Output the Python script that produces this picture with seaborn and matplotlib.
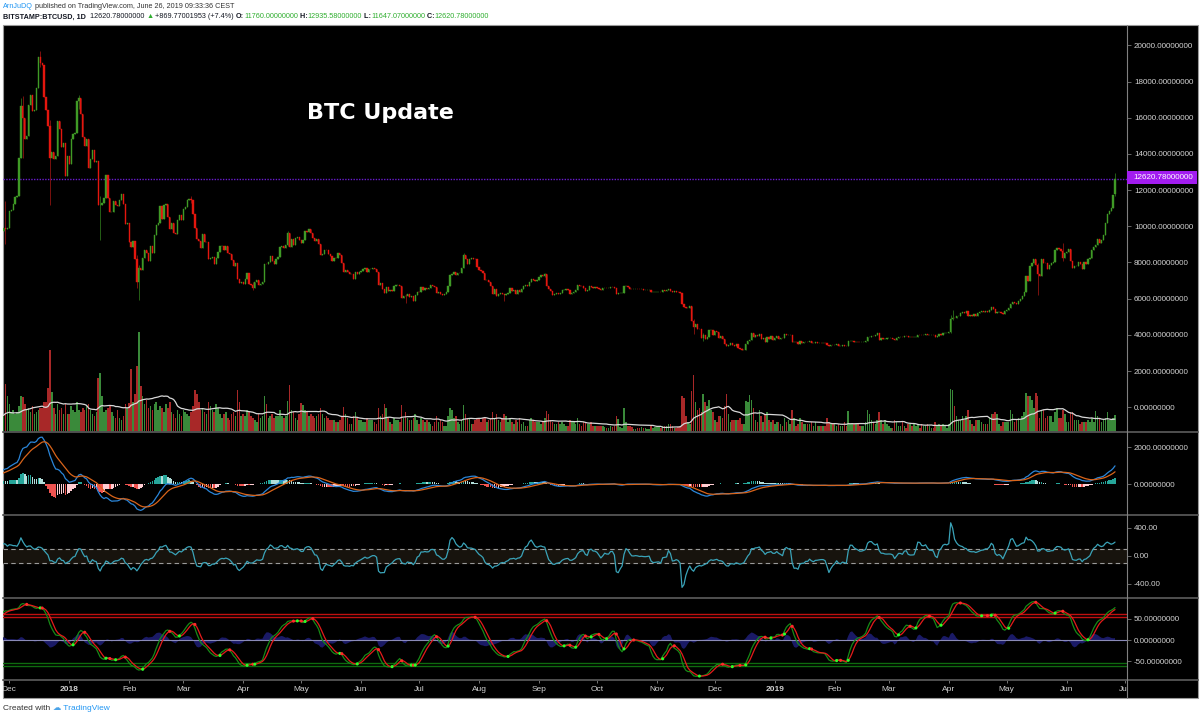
import numpy as np
import pandas as pd
import matplotlib
matplotlib.use('Agg')
import matplotlib.pyplot as plt
import matplotlib.dates as mdates
from matplotlib.patches import Rectangle
from matplotlib.lines import Line2D
import seaborn as sns

# BITSTAMP:BTCUSD daily closes, one list per month (Oct/Nov 2017 only warm up the indicators)
close_2017_10 = [4400, 4400, 4300, 4230, 4330, 4370, 4440, 4610, 4780, 4780, 4830, 5440, 5640, 5820, 5700, 5750,
                 5600, 5570, 5710, 6000, 6010, 5990, 5900, 5520, 5750, 5900, 5780, 5760, 6150, 6130, 6450]
close_2017_11 = [6740, 7030, 7160, 7390, 7380, 6960, 7120, 7460, 7140, 6600, 6350, 5900, 6550, 6600, 7280, 7850,
                 7700, 7790, 8040, 8200, 8080, 8240, 8030, 8200, 8750, 9280, 9720, 9900, 9850, 9930]
close_2017_12 = [10860, 10910, 11240, 11600, 11690, 13780, 16630, 15990, 14850, 15000, 16700, 17250, 16370, 16410,
                 17650, 19350, 19010, 18900, 17150, 16420, 15550, 13800, 14130, 13700, 13900, 15800, 15350, 14380,
                 14620, 12800, 13880]
close_2018_01 = [13450, 14850, 15100, 15150, 16900, 17100, 16200, 14950, 14450, 14800, 13200, 13700, 14200, 13550,
                 13600, 11200, 11200, 11300, 11550, 12850, 11550, 10800, 10800, 11400, 11200, 11100, 11450, 11800,
                 11250, 10100, 10200]
close_2018_02 = [9150, 8850, 9200, 8200, 6950, 7700, 7600, 8250, 8700, 8550, 8100, 8900, 8550, 9500, 10050, 10200,
                 11100, 10400, 11150, 11250, 10500, 9850, 10200, 9650, 9600, 10350, 10600, 10350]
close_2018_03 = [10950, 11050, 11450, 11500, 11450, 10700, 9900, 9300, 9200, 8800, 9550, 9150, 9150, 8200, 8250,
                 8300, 7900, 8250, 8600, 8900, 8900, 8700, 8900, 8550, 8450, 8150, 7800, 7950, 7100, 6850, 6930]
close_2018_04 = [6830, 7080, 7420, 6800, 6780, 6600, 6900, 7020, 6770, 6830, 6950, 7920, 7890, 8000, 8350, 8060,
                 7900, 8170, 8280, 8860, 8920, 8800, 8940, 9650, 8880, 9280, 8940, 9350, 9400, 9240]
close_2018_05 = [9070, 9220, 9740, 9700, 9850, 9650, 9370, 9190, 9320, 9030, 8420, 8480, 8700, 8680, 8480, 8340,
                 8060, 8240, 8230, 8530, 8400, 7990, 7500, 7590, 7470, 7350, 7350, 7110, 7460, 7390, 7490]
close_2018_06 = [7530, 7640, 7710, 7490, 7620, 7660, 7680, 7620, 7500, 6780, 6880, 6550, 6310, 6640, 6400, 6500,
                 6450, 6710, 6740, 6760, 6720, 6050, 6170, 6150, 6250, 6090, 6130, 5860, 6200, 6390]
close_2018_07 = [6350, 6620, 6500, 6600, 6530, 6600, 6750, 6710, 6660, 6300, 6390, 6240, 6220, 6250, 6350, 6720,
                 7320, 7370, 7470, 7330, 7400, 7400, 7720, 8400, 8170, 7940, 8180, 8230, 8210, 8170, 7730]
close_2018_08 = [7600, 7530, 7420, 7010, 7030, 6940, 6720, 6280, 6540, 6150, 6240, 6320, 6250, 6190, 6270, 6310,
                 6580, 6400, 6490, 6260, 6480, 6360, 6520, 6690, 6730, 6710, 6910, 7090, 7030, 6980, 7030]
close_2018_09 = [7190, 7290, 7260, 7370, 6700, 6510, 6400, 6190, 6240, 6290, 6280, 6330, 6480, 6480, 6520, 6500,
                 6250, 6340, 6390, 6490, 6760, 6710, 6700, 6590, 6430, 6460, 6680, 6630, 6600, 6630]
close_2018_10 = [6590, 6530, 6470, 6570, 6610, 6570, 6600, 6660, 6640, 6590, 6260, 6290, 6290, 6310, 6680, 6690,
                 6650, 6560, 6520, 6530, 6530, 6520, 6510, 6520, 6500, 6500, 6500, 6500, 6350, 6350, 6350]
close_2018_11 = [6380, 6390, 6370, 6500, 6430, 6460, 6560, 6450, 6360, 6400, 6390, 6370, 6320, 5700, 5560, 5480,
                 5500, 5580, 4750, 4420, 4600, 4330, 4300, 3850, 4000, 3750, 3860, 4270, 4280, 4000]
close_2018_12 = [4190, 4140, 3850, 3950, 3750, 3500, 3390, 3420, 3570, 3440, 3380, 3470, 3270, 3200, 3180, 3190,
                 3500, 3660, 3720, 4100, 3860, 4000, 3950, 4050, 3780, 3820, 3600, 3880, 3800, 3920, 3740]
close_2019_01 = [3850, 3940, 3800, 3840, 3810, 4050, 3990, 4000, 4010, 3620, 3620, 3580, 3510, 3660, 3570, 3600,
                 3630, 3580, 3690, 3530, 3540, 3580, 3550, 3570, 3560, 3560, 3530, 3430, 3400, 3460, 3440]
close_2019_02 = [3460, 3490, 3410, 3410, 3430, 3390, 3380, 3640, 3640, 3670, 3610, 3620, 3600, 3580, 3600, 3620,
                 3660, 3880, 3900, 3960, 3920, 3970, 4120, 3740, 3820, 3800, 3800, 3810]
close_2019_03 = [3820, 3820, 3800, 3700, 3850, 3860, 3870, 3860, 3940, 3920, 3860, 3870, 3860, 3860, 3910, 4010,
                 3980, 3970, 4000, 4040, 3980, 3980, 3990, 3980, 3900, 3920, 4030, 4020, 4100, 4100, 4100]
close_2019_04 = [4140, 4880, 4960, 4920, 5030, 5050, 5190, 5290, 5200, 5330, 5030, 5080, 5070, 5150, 5030, 5220,
                 5250, 5300, 5280, 5330, 5290, 5400, 5550, 5440, 5200, 5270, 5270, 5230, 5160, 5320]
close_2019_05 = [5380, 5500, 5730, 5820, 5750, 5700, 5850, 5980, 6170, 6350, 7250, 6960, 7800, 7980, 8200, 7880,
                 7360, 7260, 8190, 7980, 7950, 7630, 7880, 7990, 8050, 8680, 8780, 8720, 8660, 8270, 8550]
close_2019_06 = [8560, 8740, 8110, 7680, 7790, 7800, 8010, 7930, 7630, 8020, 7910, 8170, 8230, 8690, 8860, 8990,
                 9320, 9080, 9270, 9530, 10200, 10700, 10860, 11020, 11751, 12620.78]

# daily volume (thousand BTC)
vol_2017_10 = [12, 10, 12, 12, 10, 8, 8, 12, 14, 14, 14, 24, 22, 18, 14, 12, 12, 12, 10, 18, 14, 12, 14, 20, 14, 12,
               12, 8, 14, 12, 14]
vol_2017_11 = [16, 16, 14, 14, 12, 12, 12, 18, 14, 20, 18, 28, 26, 16, 20, 24, 16, 12, 14, 16, 14, 12, 10, 10, 14, 16,
               18, 16, 48, 36]
vol_2017_12 = [28, 20, 22, 18, 20, 26, 36, 35, 28, 22, 24, 20, 26, 18, 20, 22, 24, 24, 30, 30, 44, 82, 40, 24, 18, 28,
               22, 24, 18, 28, 18]
vol_2018_01 = [18, 26, 22, 20, 30, 22, 20, 24, 22, 26, 28, 22, 18, 16, 20, 54, 59, 36, 20, 22, 24, 26, 20, 16, 14, 22,
               14, 12, 16, 28, 24]
vol_2018_02 = [29, 63, 30, 38, 66, 100, 46, 36, 28, 32, 24, 26, 22, 28, 30, 22, 26, 24, 20, 28, 24, 30, 20, 18, 14, 22,
               18, 16]
vol_2018_03 = [22, 20, 18, 16, 20, 26, 42, 38, 30, 22, 24, 20, 18, 30, 26, 22, 20, 28, 24, 18, 14, 18, 20, 14, 12, 18,
               20, 16, 42, 30, 16]
vol_2018_04 = [18, 16, 22, 20, 16, 14, 12, 10, 18, 14, 16, 36, 28, 14, 16, 18, 14, 16, 16, 22, 16, 14, 16, 31, 47, 22,
               20, 14, 12, 18]
vol_2018_05 = [29, 27, 22, 20, 16, 18, 16, 14, 16, 18, 24, 18, 14, 16, 14, 12, 12, 12, 10, 10, 12, 16, 25, 18, 14, 8,
               8, 16, 20, 14, 12]
vol_2018_06 = [12, 10, 10, 14, 12, 12, 12, 10, 8, 24, 16, 18, 28, 24, 14, 10, 8, 14, 12, 12, 10, 27, 14, 20, 14, 12,
               12, 14, 18, 12]
vol_2018_07 = [8, 14, 12, 10, 12, 10, 8, 6, 10, 16, 10, 12, 10, 6, 6, 16, 24, 22, 14, 16, 10, 8, 12, 27, 18, 14, 14, 8,
               8, 12, 14]
vol_2018_08 = [14, 10, 14, 14, 10, 12, 14, 20, 14, 18, 12, 10, 14, 18, 16, 10, 14, 10, 8, 12, 10, 14, 8, 10, 6, 6, 12,
               14, 12, 10, 10]
vol_2018_09 = [10, 8, 10, 14, 21, 18, 12, 10, 8, 8, 10, 8, 10, 8, 6, 6, 12, 10, 10, 8, 14, 8, 6, 10, 10, 8, 8, 10, 6, 6]
vol_2018_10 = [6, 6, 6, 6, 5, 4, 4, 6, 5, 6, 16, 13, 5, 4, 24, 10, 6, 6, 5, 3, 3, 4, 4, 5, 4, 4, 3, 3, 6, 4, 5]
vol_2018_11 = [5, 5, 4, 6, 6, 6, 8, 8, 6, 4, 4, 5, 6, 36, 34, 16, 10, 8, 41, 57, 30, 22, 24, 20, 38, 30, 26, 32, 22, 20]
vol_2018_12 = [12, 10, 16, 16, 14, 26, 38, 18, 10, 12, 12, 12, 12, 14, 8, 8, 31, 30, 37, 32, 24, 12, 10, 22, 16, 10,
               18, 20, 12, 10, 12]
vol_2019_01 = [8, 10, 10, 8, 6, 14, 10, 12, 8, 22, 14, 6, 8, 14, 10, 8, 8, 8, 8, 10, 6, 10, 6, 6, 6, 6, 6, 14, 10, 8, 8]
vol_2019_02 = [8, 6, 8, 6, 6, 10, 6, 21, 8, 8, 8, 8, 8, 6, 6, 6, 10, 22, 18, 12, 10, 8, 12, 20, 12, 8, 12, 8]
vol_2019_03 = [6, 4, 4, 12, 10, 6, 6, 10, 6, 4, 8, 8, 6, 8, 6, 8, 4, 8, 6, 6, 8, 6, 4, 4, 10, 6, 8, 6, 8, 6, 4]
vol_2019_04 = [8, 43, 42, 26, 16, 12, 12, 16, 12, 16, 22, 12, 8, 6, 12, 12, 12, 10, 8, 8, 8, 14, 18, 18, 20, 18, 8, 6,
               10, 10]
vol_2019_05 = [10, 10, 22, 18, 10, 12, 14, 12, 16, 20, 39, 36, 36, 32, 24, 39, 36, 14, 22, 22, 14, 16, 16, 16, 10, 20,
               24, 14, 14, 22, 18]
vol_2019_06 = [10, 10, 20, 20, 12, 12, 12, 8, 10, 10, 10, 12, 10, 14, 10, 21, 16, 14, 10, 12, 14, 20, 12, 12, 14, 17]

# notable wicks: date -> (high, low)
wicks = {
    '2017-11-29': (11400, 9000), '2017-12-07': (17100, 13800), '2017-12-08': (17200, 13800),
    '2017-12-17': (19666, 18800), '2017-12-22': (15900, 11200), '2018-01-06': (17250, 16500),
    '2018-01-17': (11700, 9250), '2018-02-05': (8400, 6600), '2018-02-06': (7850, 5950),
    '2018-03-05': (11700, 11300), '2018-04-06': (6950, 6500), '2018-04-24': (9750, 8900),
    '2018-06-24': (6250, 5750), '2018-07-24': (8500, 7700), '2018-08-14': (6250, 5900),
    '2018-09-04': (7400, 7200), '2018-11-20': (4900, 4050), '2018-11-25': (4100, 3650),
    '2018-12-15': (3250, 3150), '2019-04-02': (5100, 4100), '2019-04-03': (5350, 4800),
    '2019-05-17': (7950, 6180), '2019-05-30': (9050, 8100), '2019-06-26': (12935.58, 11647.07),
}
open_override = {'2019-06-26': 11760.0}
last_price = 12620.78

month_starts = ['2017-10-01', '2017-11-01', '2017-12-01', '2018-01-01', '2018-02-01', '2018-03-01', '2018-04-01',
                '2018-05-01', '2018-06-01', '2018-07-01', '2018-08-01', '2018-09-01', '2018-10-01', '2018-11-01',
                '2018-12-01', '2019-01-01', '2019-02-01', '2019-03-01', '2019-04-01', '2019-05-01', '2019-06-01']
closes_by_month = [close_2017_10, close_2017_11, close_2017_12, close_2018_01, close_2018_02, close_2018_03,
                   close_2018_04, close_2018_05, close_2018_06, close_2018_07, close_2018_08, close_2018_09,
                   close_2018_10, close_2018_11, close_2018_12, close_2019_01, close_2019_02, close_2019_03,
                   close_2019_04, close_2019_05, close_2019_06]
vols_by_month = [vol_2017_10, vol_2017_11, vol_2017_12, vol_2018_01, vol_2018_02, vol_2018_03, vol_2018_04,
                 vol_2018_05, vol_2018_06, vol_2018_07, vol_2018_08, vol_2018_09, vol_2018_10, vol_2018_11,
                 vol_2018_12, vol_2019_01, vol_2019_02, vol_2019_03, vol_2019_04, vol_2019_05, vol_2019_06]

frames = []
for start, c, v in zip(month_starts, closes_by_month, vols_by_month):
    frames.append(pd.DataFrame({'date': pd.date_range(start, periods=len(c), freq='D'), 'close': c, 'volume': v}))
df = pd.concat(frames, ignore_index=True)
df['close'] = df['close'].astype(float)
df['open'] = df['close'].shift(1).fillna(df['close'].iloc[0])
for d, o in open_override.items():
    df.loc[df['date'] == d, 'open'] = o
df['high'] = df[['open', 'close']].max(axis=1)
df['low'] = df[['open', 'close']].min(axis=1)
for d, (h, l) in wicks.items():
    m = df['date'] == d
    df.loc[m, 'high'] = np.maximum(df.loc[m, 'high'], h)
    df.loc[m, 'low'] = np.minimum(df.loc[m, 'low'], l)
x = mdates.date2num(df['date'])
up = (df['close'] >= df['open']).values


def ema(s, n):
    return s.ewm(span=n, adjust=False).mean()


# indicators
macd = ema(df['close'], 12) - ema(df['close'], 26)
signal = ema(macd, 9)
hist = macd - signal
tp = (df['high'] + df['low'] + df['close']) / 3
tp_ma = tp.rolling(20).mean()
mad = tp.rolling(20).apply(lambda w: np.mean(np.abs(w - w.mean())), raw=True)
cci = (tp - tp_ma) / (0.015 * mad)
esa = ema(tp, 10)
dd = ema((tp - esa).abs(), 10)
wt1 = ema((tp - esa) / (0.015 * dd), 21)
wt2 = wt1.rolling(4).mean()
vol_ma = df['volume'].rolling(20, min_periods=1).mean()

# ---- layout ----
sns.set_style('dark')
plt.rcParams['font.family'] = ['Liberation Sans', 'DejaVu Sans']
W, H = 1200, 719
LEFT, AXIS_X, RIGHT = 3, 1127, 1198
fig = plt.figure(figsize=(12, 7.19), dpi=100, facecolor='white')
fig.patches.append(Rectangle((LEFT / W, 1 - 698 / H), (RIGHT - LEFT) / W, (698 - 25) / H,
                             transform=fig.transFigure, facecolor='black', edgecolor='#9a9a9a', lw=0.8, zorder=-10))


def rect(top, bottom):
    return [LEFT / W, 1 - bottom / H, (AXIS_X - LEFT) / W, (bottom - top) / H]


day0 = mdates.date2num(pd.Timestamp('2017-12-01'))
xlim = (day0 - 3.26, day0 + 578.2)
tick_kw = dict(axis='y', labelcolor='#d4d4d4', color='#777777', length=3, width=0.6, labelsize=5.8, pad=2)


def style(ax, ylim, ticks, fmt):
    ax.set_facecolor('none')
    ax.set_xlim(*xlim)
    ax.set_ylim(*ylim)
    for s in ax.spines.values():
        s.set_visible(False)
    ax.set_xticks([])
    ax.yaxis.tick_right()
    ax.set_yticks(ticks)
    ax.set_yticklabels([fmt.format(t) for t in ticks])
    ax.tick_params(**tick_kw)
    ax.set_xlabel('')
    ax.set_ylabel('')
    ax.grid(False)


# volume overlay
ax_vol = fig.add_axes(rect(25, 432))
ax_vol.bar(x, df['volume'], width=0.8, color=np.where(up, '#3a8a3a', '#a82828'), linewidth=0)
sns.lineplot(x=x, y=vol_ma.values, ax=ax_vol, color='#d8d8d8', linewidth=0.9)
style(ax_vol, (0, 407), [], '{}')
ax_vol.tick_params(axis='y', length=0)

# candles
ax_p = fig.add_axes(rect(25, 432))
body_col = np.where(up, '#3f9a26', '#e4160e')
wick_col = np.where(up, '#2b6e1a', '#8e1410')
ax_p.vlines(x, df['low'], df['high'], colors=wick_col, linewidth=0.6, zorder=2)
ax_p.bar(x, df['close'] - df['open'], bottom=df['open'], width=0.65, color=body_col, edgecolor=body_col,
         linewidth=0.3, zorder=3)
ax_p.axhline(last_price, color='#6a1bd0', lw=1, ls=(0, (1, 1)), zorder=1)
style(ax_p, (-1365, 21122), list(range(0, 20001, 2000)), '{:.8f}')
ax_p.text(380, 113, 'BTC Update', transform=None, alpha=0)

# MACD
ax_m = fig.add_axes(rect(432, 515))
hv = hist.values
prev = np.r_[hv[0], hv[:-1]]
hcol = np.where(hv >= 0, np.where(prev < hv, '#26a69a', '#b2dfdb'), np.where(prev < hv, '#ffcdd2', '#ef5350'))
ax_m.bar(x, hv, width=0.8, color=hcol, linewidth=0)
sns.lineplot(x=x, y=macd.values, ax=ax_m, color='#2b86d9', linewidth=0.9)
sns.lineplot(x=x, y=signal.values, ax=ax_m, color='#d9641a', linewidth=0.9)
style(ax_m, (-1689, 2834), [0, 2000], '{:.8f}')

# CCI
ax_c = fig.add_axes(rect(515, 598))
ax_c.axhspan(-100, 100, color='#17130d', zorder=0)
for lv in (100, -100):
    ax_c.axhline(lv, color='#9a9a9a', lw=0.8, ls=(0, (4, 3)))
sns.lineplot(x=x, y=cci.values, ax=ax_c, color='#3aa3b8', linewidth=0.9)
style(ax_c, (-604, 581), [-400, 0, 400], '{:.2f}')

# WaveTrend
ax_w = fig.add_axes(rect(598, 680))
ax_w.fill_between(x, 0, (wt1 - wt2).values, color='#1a1a66', linewidth=0, zorder=1)
ax_w.axhline(0, color='#8a8ab8', lw=0.8, zorder=2)
for lv in (60, 53):
    ax_w.axhline(lv, color='#c01010', lw=1, zorder=2)
for lv in (-53, -60):
    ax_w.axhline(lv, color='#0f6b0f', lw=1, zorder=2)
sns.lineplot(x=x, y=wt1.values, ax=ax_w, color='#178a17', linewidth=0.9, zorder=3)
sns.lineplot(x=x, y=wt2.values, ax=ax_w, color='#e51b1b', linewidth=0.9, zorder=3)
diff = (wt1 - wt2).values
sg = np.sign(diff)
cross = np.r_[False, (sg[1:] != sg[:-1]) & ~np.isnan(diff[1:]) & ~np.isnan(diff[:-1])]
ax_w.scatter(x[cross], wt2.values[cross], s=5, c=np.where(diff[cross] < 0, '#ff2a2a', '#2aff2a'),
             linewidths=0, zorder=4)
style(ax_w, (-93.7, 98.4), [-50, 0, 50], '{:.8f}')

# time axis
ax_t = fig.add_axes(rect(680, 698))
ax_t.set_facecolor('none')
ax_t.set_xlim(*xlim)
ax_t.set_ylim(0, 1)
ax_t.axis('off')
for m in pd.date_range('2017-12-01', '2019-07-01', freq='MS'):
    mx = mdates.date2num(m)
    lab = str(m.year) if m.month == 1 else m.strftime('%b')
    ax_t.vlines(mx, 0.82, 1.0, color='#888888', lw=0.6)
    ax_t.text(mx, 0.45, lab, ha='center', va='center', color='#d0d0d0', fontsize=6,
              fontweight='bold' if m.month == 1 else 'normal', clip_on=True)

# separators and price-axis line
for yy in (432, 515, 598, 680):
    fig.lines.append(Line2D([LEFT / W, RIGHT / W], [1 - yy / H] * 2, color='#505050', lw=1.4,
                            transform=fig.transFigure))
fig.lines.append(Line2D([AXIS_X / W] * 2, [1 - 25 / H, 1 - 698 / H], color='#808080', lw=0.8,
                        transform=fig.transFigure))

# last price tag
fig.patches.append(Rectangle((AXIS_X / W, 1 - 184 / H), 70 / W, 13 / H, transform=fig.transFigure,
                             facecolor='#a21cf0', edgecolor='none', zorder=5))
fig.text(1133 / W, 1 - 177.5 / H, f'{last_price:.8f}', color='white', fontsize=5.8, va='center', ha='left', zorder=6)

fig.text(380 / W, 1 - 113 / H, 'BTC Update', color='white', fontsize=16, fontweight='bold',
         family='DejaVu Sans', ha='center', va='center')

renderer = fig.canvas.get_renderer()


def write_pieces(x_px, y_px, pieces, size):
    for txt, color, weight in pieces:
        t = fig.text(x_px / W, 1 - y_px / H, txt, color=color, fontsize=size, fontweight=weight,
                     ha='left', va='center')
        x_px += t.get_window_extent(renderer).width


dark, green = '#131722', '#2fae2f'
write_pieces(3, 7, [('ArnJuDQ', '#2196f3', 'normal'),
                    (' published on TradingView.com, June 26, 2019 09:33:36 CEST', '#333333', 'normal')], 5.2)
write_pieces(3, 17, [('BITSTAMP:BTCUSD, 1D', dark, 'bold'), ('  12620.78000000 ', dark, 'normal'),
                     ('▲', green, 'normal'), (' +869.77001953 (+7.4%) ', dark, 'normal'),
                     ('O:', dark, 'bold'), ('11760.00000000', green, 'normal'),
                     (' H:', dark, 'bold'), ('12935.58000000', green, 'normal'),
                     (' L:', dark, 'bold'), ('11647.07000000', green, 'normal'),
                     (' C:', dark, 'bold'), ('12620.78000000', green, 'normal')], 5.2)
write_pieces(3, 709, [('Created with ', '#333333', 'normal'), ('☁', '#4aa3e8', 'normal'),
                      (' TradingView', '#2196f3', 'normal')], 6)

fig.savefig('out.png', dpi=100, facecolor='white')
